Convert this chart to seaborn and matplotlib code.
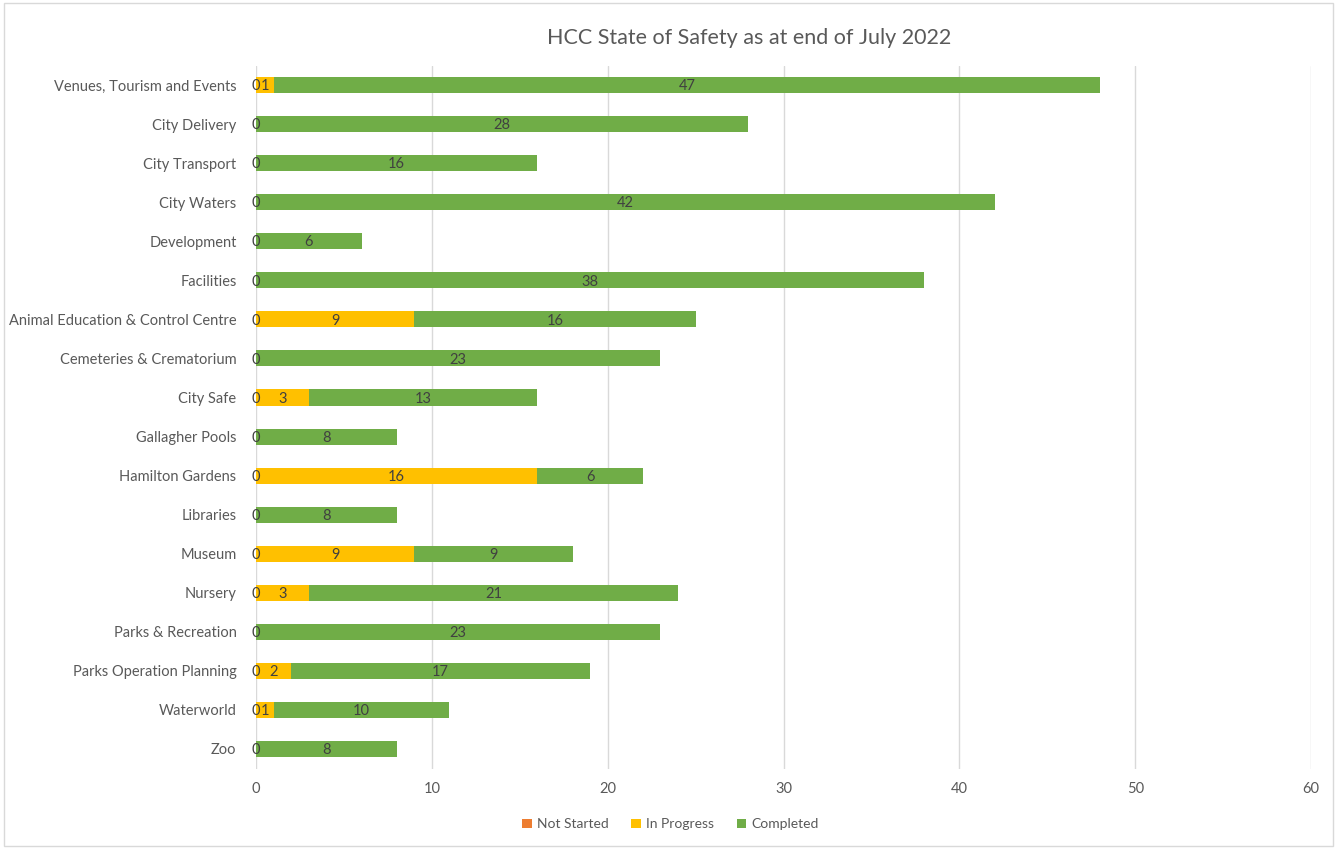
import matplotlib
matplotlib.use("Agg")
import matplotlib.pyplot as plt
import seaborn as sns
import numpy as np
import pandas as pd
from matplotlib.patches import Rectangle, Patch

categories = ["Venues, Tourism and Events", "City Delivery", "City Transport", "City Waters",
              "Development", "Facilities", "Animal Education & Control Centre",
              "Cemeteries & Crematorium", "City Safe", "Gallagher Pools", "Hamilton Gardens",
              "Libraries", "Museum", "Nursery", "Parks & Recreation",
              "Parks Operation Planning", "Waterworld", "Zoo"]
not_started = [0, 0, 0, 0, 0, 0, 0, 0, 0, 0, 0, 0, 0, 0, 0, 0, 0, 0]
in_progress = [1, None, None, None, None, None, 9, None, 3, None, 16, None, 9, 3, None, 2, 1, None]
completed = [47, 28, 16, 42, 6, 38, 16, 23, 13, 8, 6, 8, 9, 21, 23, 17, 10, 8]
series_names = ["Not Started", "In Progress", "Completed"]
series_colors = ["#ED7D31", "#FFC000", "#70AD47"]
x_ticks = [0, 10, 20, 30, 40, 50, 60]

sns.set_theme(style="white")
plt.rcParams['font.family'] = ['Lato', 'DejaVu Sans']

df = pd.DataFrame({"cat": categories,
                   "ns": np.array(not_started, dtype=float),
                   "ip": np.array([np.nan if v is None else v for v in in_progress], dtype=float),
                   "co": np.array(completed, dtype=float)})
df["c1"] = df["ns"]
df["c2"] = df["c1"] + df["ip"].fillna(0)
df["c3"] = df["c2"] + df["co"]

fig = plt.figure(figsize=(13.37, 8.49), dpi=100)
ax = fig.add_axes([0.1915, 0.0948, 0.7891, 0.828])

bw = 0.41
sns.barplot(data=df, x="c3", y="cat", orient="h", color=series_colors[2], width=bw,
            linewidth=0, saturation=1, ax=ax, order=categories, zorder=3)
sns.barplot(data=df, x="c2", y="cat", orient="h", color=series_colors[1], width=bw,
            linewidth=0, saturation=1, ax=ax, order=categories, zorder=4)
sns.barplot(data=df, x="c1", y="cat", orient="h", color=series_colors[0], width=bw,
            linewidth=0, saturation=1, ax=ax, order=categories, zorder=5)

lab_kw = dict(ha="center", va="center", fontsize=10.5, color="#404040", zorder=6)
for i, row in df.iterrows():
    y = i + 0.03
    ax.text(row["ns"] / 2, y, f"{int(row['ns'])}", **lab_kw)
    if not np.isnan(row["ip"]):
        ax.text(row["c1"] + row["ip"] / 2, y, f"{int(row['ip'])}", **lab_kw)
    ax.text(row["c2"] + row["co"] / 2, y, f"{int(row['co'])}", **lab_kw)

ax.set_xlim(0, 60)
ax.set_ylim(len(categories) - 0.5, -0.5)
ax.set_xticks(x_ticks)
ax.set_xticklabels([str(t) for t in x_ticks])
ax.set_xlabel("")
ax.set_ylabel("")
ax.grid(axis="x", color="#D9D9D9", linewidth=1, zorder=0)
ax.set_axisbelow(True)
for s in ax.spines.values():
    s.set_visible(False)
ax.tick_params(axis="both", length=0, labelsize=10.5, labelcolor="#595959")
ax.tick_params(axis="x", pad=10)
ax.tick_params(axis="y", pad=14)

fig.text(0.560, 0.955, "HCC State of Safety as at end of July 2022", ha="center", va="center",
         fontsize=15.5, color="#595959")

handles = [Patch(facecolor=c, edgecolor="none", label=n) for c, n in zip(series_colors, series_names)]
fig.legend(handles=handles, loc="center", bbox_to_anchor=(0.5015, 0.029), ncol=3, frameon=False,
           fontsize=10, handlelength=0.7, handleheight=0.7, handletextpad=0.4, columnspacing=1.6,
           labelcolor="#595959")

fig.patches.append(Rectangle((0.003, 0.004), 0.994, 0.992, transform=fig.transFigure,
                             facecolor="none", edgecolor="#D9D9D9", linewidth=1))

fig.savefig("out.png", dpi=100, facecolor="white")
